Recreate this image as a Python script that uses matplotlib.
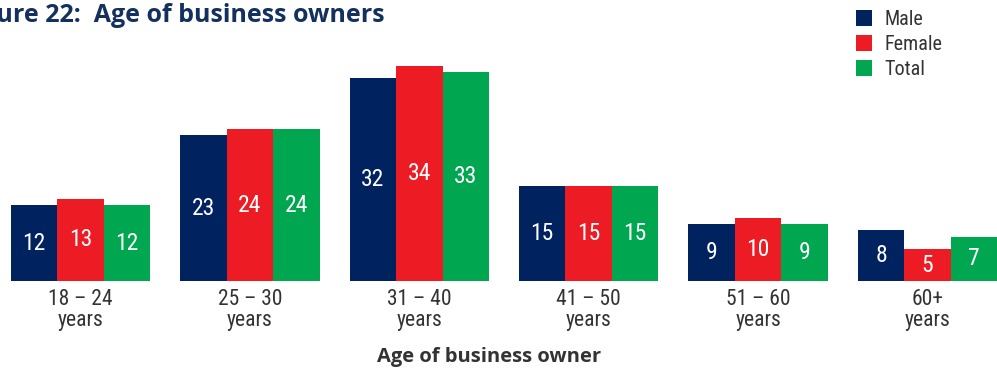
import matplotlib
matplotlib.use("Agg")
import matplotlib.pyplot as plt
import numpy as np
from matplotlib.patches import Patch
from matplotlib import font_manager

categories = ["18 – 24\nyears", "25 – 30\nyears", "31 – 40\nyears",
              "41 – 50\nyears", "51 – 60\nyears", "60+\nyears"]
male = [12, 23, 32, 15, 9, 8]
female = [13, 24, 34, 15, 10, 5]
total = [12, 24, 33, 15, 9, 7]
series_names = ["Male", "Female", "Total"]
colors = ["#002360", "#ed1c24", "#00a650"]


def pick_font(names):
    for n in names:
        try:
            font_manager.findfont(font_manager.FontProperties(family=n),
                                  fallback_to_default=False)
            return n
        except Exception:
            continue
    return "DejaVu Sans"


num_font = pick_font(["Roboto Condensed", "Liberation Sans Narrow", "Roboto"])

W, H = 997, 372
fig = plt.figure(figsize=(W / 100, H / 100), dpi=100)
base = 281
ax = fig.add_axes([0, (H - base) / H, 1, base / H])

x = np.arange(len(categories))
bw = 0.2745
for i, (vals, c) in enumerate(zip([male, female, total], colors)):
    pos = x + (i - 1) * bw
    bars = ax.bar(pos, vals, width=bw, color=c, linewidth=0)
    for b, v in zip(bars, vals):
        ax.text(b.get_x() + b.get_width() / 2, v / 2, str(v), ha="center",
                va="center", color="white", fontsize=17, family=num_font)

ax.set_xlim(-0.475, 5.41)
ax.set_ylim(0, 281 / 6.33)
ax.axis("off")

for xi, lab in zip(x, categories):
    ax.text(xi, -1.3, lab, ha="center", va="top", fontsize=15.5,
            family=num_font, color="#333333", linespacing=1.0)

fig.text(385 / W, 1 - 15 / H, "Figure 22:  Age of business owners", ha="right",
         va="center", fontsize=18, fontweight="bold", family="Open Sans",
         color="#14305e")
fig.text(489 / W, 1 - 357 / H, "Age of business owner", ha="center",
         va="center", fontsize=14.5, fontweight="bold", family="Open Sans",
         color="#333333")

handles = [Patch(facecolor=c, edgecolor="none") for c in colors]
leg = fig.legend(handles, series_names, loc="upper left",
                 bbox_to_anchor=(848 / W, 1 - 2 / H), frameon=False,
                 prop={"family": num_font, "size": 14.5},
                 handlelength=0.8, handleheight=0.8, handletextpad=0.6,
                 labelspacing=0.3, borderaxespad=0)
for t in leg.get_texts():
    t.set_color("#333333")

fig.savefig("out.png", dpi=100)
